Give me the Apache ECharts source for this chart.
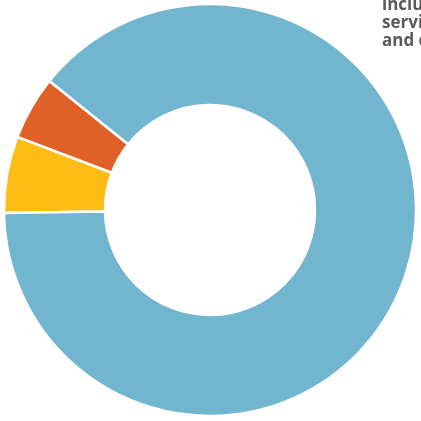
<!DOCTYPE html>
<html>
<head>
<meta charset="utf-8">
<script src="https://cdn.jsdelivr.net/npm/echarts@6/dist/echarts.min.js"></script>
<style>html,body{margin:0;padding:0;background:#fff;}#c{width:421px;height:421px;}</style>
</head>
<body>
<div id="c"></div>
<script>
const categories = ['Yellow', 'Orange', 'Blue'];
const values = [6, 5, 89];
const colors = ['#fdbd14', '#df6128', '#72b5cf'];
const noteLines = ['including', 'services', 'and other'];

const chart = echarts.init(document.getElementById('c'), null, {renderer: 'canvas'});
chart.setOption({
  animation: false,
  graphic: [{
    type: 'text',
    left: 382,
    top: -4,
    style: {
      text: noteLines.join('\n'),
      font: 'bold 17px "Open Sans", sans-serif',
      fill: '#5a5a5a',
      lineHeight: 18
    }
  }],
  series: [{
    type: 'pie',
    center: [210, 210],
    radius: [105, 206],
    startAngle: 180.8,
    clockwise: true,
    label: {show: false},
    labelLine: {show: false},
    itemStyle: {borderColor: '#fff', borderWidth: 2.5},
    emphasis: {disabled: true},
    data: categories.map((n, i) => ({name: n, value: values[i], itemStyle: {color: colors[i]}}))
  }]
});
</script>
</body>
</html>
